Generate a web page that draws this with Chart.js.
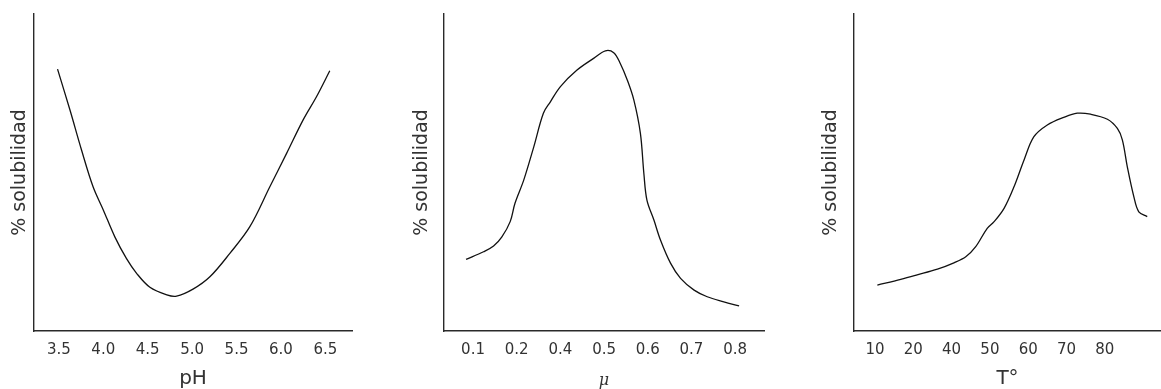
<!DOCTYPE html>
<html>
<head>
<meta charset="utf-8">
<script src="https://cdn.jsdelivr.net/npm/chart.js@4"></script>
<style>
  body { margin: 0; background: #fff; }
  .panel { position: absolute; top: 0; width: 387px; height: 389px; }
</style>
</head>
<body>
<div class="panel" style="left:0px"><canvas id="phChart" width="387" height="389"></canvas></div>
<div class="panel" style="left:387px"><canvas id="muChart" width="387" height="389"></canvas></div>
<div class="panel" style="left:774px"><canvas id="tChart" width="387" height="389"></canvas></div>
<script>
// tick labels (evenly spaced on the axis, so x values below are in tick-index units)
const phLabels = ["3.5", "4.0", "4.5", "5.0", "5.5", "6.0", "6.5"];
const muLabels = ["0.1", "0.2", "0.4", "0.5", "0.6", "0.7", "0.8"];
const tLabels = ["10", "20", "40", "50", "60", "70", "80"];

// % solubilidad vs pH
const phX = [-0.03, 0.25, 0.51, 0.77, 1.0, 1.26, 1.52, 1.75, 2.05, 2.43, 2.65, 3.02, 3.4, 3.85, 4.3, 4.75, 5.13, 5.5, 5.8, 6.1];
const phY = [82.6, 69.7, 57.1, 45.5, 38.2, 29.7, 22.9, 18.2, 13.8, 11.4, 11.0, 13.2, 17.1, 24.5, 32.9, 45.5, 56.1, 66.6, 73.9, 82.1];

// % solubilidad vs fuerza ionica (mu)
const muX = [-0.16, 0.24, 0.47, 0.66, 0.85, 0.96, 1.16, 1.39, 1.61, 1.77, 2.0, 2.38, 2.76, 3.03, 3.22, 3.37, 3.53, 3.68, 3.83, 3.91, 3.98, 4.14, 4.29, 4.52, 4.75, 5.06, 5.36, 5.74, 6.09];
const muY = [22.6, 25.0, 26.8, 29.7, 34.5, 40.3, 47.6, 58.1, 68.7, 72.3, 77.1, 82.3, 86.0, 88.4, 87.8, 84.4, 79.2, 72.9, 62.4, 49.7, 41.3, 35.0, 28.7, 21.4, 16.6, 12.9, 10.8, 9.2, 7.9];

// % solubilidad vs temperatura
const tX = [0.06, 0.67, 1.1, 1.63, 2.06, 2.37, 2.63, 2.93, 3.11, 3.37, 3.63, 3.89, 4.15, 4.5, 4.93, 5.28, 5.63, 6.07, 6.33, 6.46, 6.59, 6.76, 6.89, 7.11];
const tY = [14.5, 16.3, 17.7, 19.5, 21.5, 23.4, 26.6, 32.4, 34.5, 38.7, 45.5, 53.9, 61.3, 65.0, 67.4, 68.7, 68.4, 66.8, 63.9, 60.3, 51.8, 42.4, 37.6, 36.1];

const textColor = "#333";
const axisColor = "#2a2a2a";

function makePanel(id, labels, xs, ys, o) {
  const ctx = document.getElementById(id).getContext("2d");
  return new Chart(ctx, {
    type: "line",
    data: {
      datasets: [{
        data: xs.map((x, i) => ({ x: x, y: ys[i] })),
        borderColor: "#111",
        borderWidth: 1.3,
        pointRadius: 0,
        tension: 0.35,
        fill: false,
      }],
    },
    options: {
      responsive: false,
      animation: false,
      layout: { padding: { top: 14, right: o.padRight, bottom: 0, left: 0 } },
      plugins: { legend: { display: false }, tooltip: { enabled: false } },
      scales: {
        x: {
          type: "linear",
          min: o.xMin,
          max: o.xMax,
          grid: { display: false, drawTicks: false },
          border: { display: true, color: axisColor, width: 1.4 },
          afterBuildTicks: (scale) => {
            scale.ticks = labels.map((_, i) => ({ value: i }));
          },
          afterFit: (scale) => { scale.height = 58; },
          ticks: {
            autoSkip: false,
            maxRotation: 0,
            padding: 10,
            color: textColor,
            font: { family: "DejaVu Sans", size: 15 },
            callback: (v) => labels[Math.round(v)],
          },
          title: {
            display: true,
            text: o.xTitle,
            color: textColor,
            padding: 0,
            font: o.xTitleFont,
          },
        },
        y: {
          min: 0,
          max: 100,
          grid: { display: false, drawTicks: false },
          border: { display: true, color: axisColor, width: 1.4 },
          ticks: { display: false },
          afterFit: (scale) => { scale.width = o.yWidth; },
          title: {
            display: true,
            text: "% solubilidad",
            color: textColor,
            padding: { top: o.yTitlePad, bottom: 0 },
            font: { family: "DejaVu Sans", size: 19, lineHeight: 1.2 },
          },
        },
      },
    },
  });
}

makePanel("phChart", phLabels, phX, phY, {
  xMin: -0.56, xMax: 6.6, padRight: 35, yWidth: 34, yTitlePad: 8.6,
  xTitle: "pH", xTitleFont: { family: "DejaVu Sans", size: 20, lineHeight: 1 },
});
makePanel("muChart", muLabels, muX, muY, {
  xMin: -0.665, xMax: 6.66, padRight: 10, yWidth: 57, yTitlePad: 23.6,
  xTitle: "\u03bc", xTitleFont: { family: "DejaVu Serif", size: 16, style: "italic", lineHeight: 1 },
});
makePanel("tChart", tLabels, tX, tY, {
  xMin: -0.55, xMax: 7.47, padRight: 0, yWidth: 80, yTitlePad: 45.6,
  xTitle: "T\u00b0", xTitleFont: { family: "DejaVu Sans", size: 20, lineHeight: 1 },
});
</script>
</body>
</html>
